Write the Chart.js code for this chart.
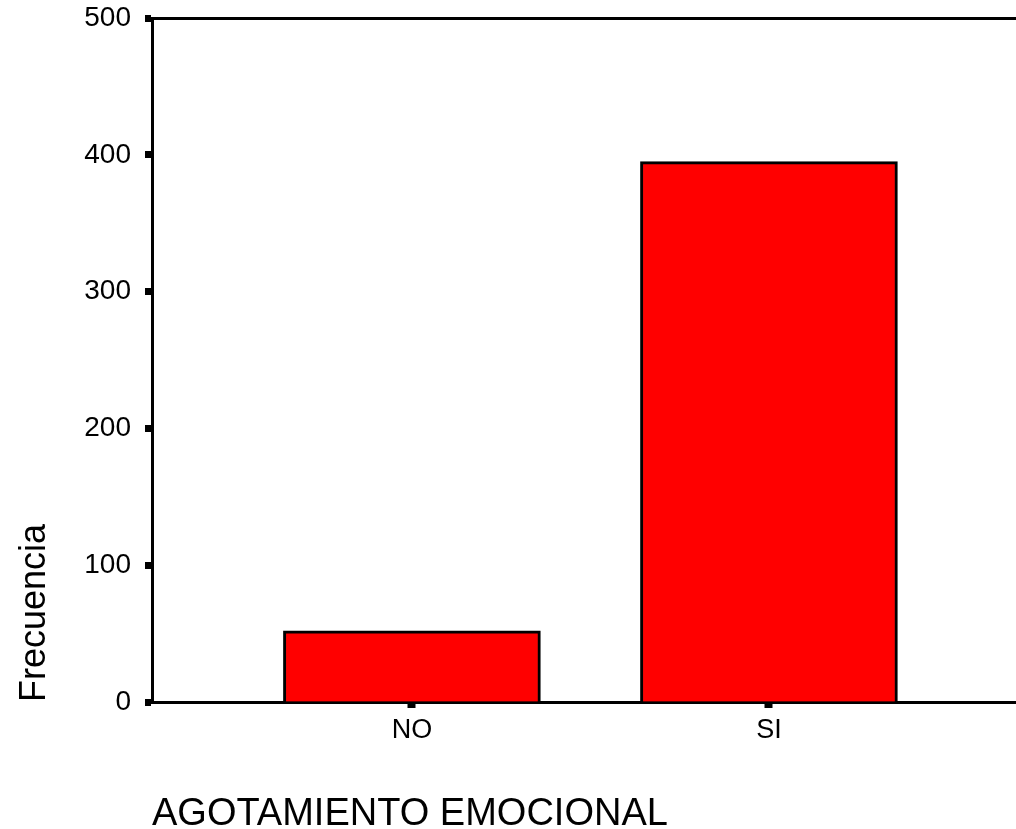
<!DOCTYPE html>
<html>
<head>
<meta charset="utf-8">
<script src="https://cdn.jsdelivr.net/npm/chart.js@4"></script>
<style>
  body { margin: 0; background: #fff; }
  #wrap { width: 1016px; height: 829px; }
</style>
</head>
<body>
<div id="wrap"><canvas id="chart" width="1016" height="829"></canvas></div>
<script>
// data
const categories = ["NO", "SI"];
const frecuencia = [52, 395];
const yTicks = [0, 100, 200, 300, 400, 500];

// bars sit at positions 1 and 2 on a linear x scale
const points = categories.map((c, i) => ({ x: i + 1, y: frecuencia[i] }));

const fontFam = "'Liberation Sans', Arial, sans-serif";

const ctx = document.getElementById("chart").getContext("2d");
new Chart(ctx, {
    type: "bar",
    data: {
        datasets: [{
            label: "Frecuencia",
            data: points,
            backgroundColor: "#ff0000",
            borderColor: "#000000",
            borderWidth: 3,
            borderSkipped: "bottom",
            barThickness: 257
        }]
    },
    options: {
        responsive: false,
        animation: false,
        layout: { padding: 0 },
        plugins: { legend: { display: false }, tooltip: { enabled: false } },
        scales: {
            x: {
                type: "linear",
                position: "bottom",
                offset: false,
                min: 0.272,
                max: 2.692,
                afterBuildTicks: axis => { axis.ticks = categories.map((c, i) => ({ value: i + 1 })); },
                afterFit: axis => { axis.height = 127; axis.paddingLeft = 0; axis.paddingRight = 0; },
                ticks: {
                    callback: v => categories[v - 1],
                    color: "#000",
                    font: { family: fontFam, size: 27 },
                    padding: 6,
                    maxRotation: 0,
                    autoSkip: false
                },
                grid: { offset: false, drawOnChartArea: false, tickLength: 6, tickWidth: 8, tickColor: "#000" },
                border: { display: true, color: "#000", width: 3 },
                title: {
                    display: true,
                    text: "AGOTAMIENTO EMOCIONAL",
                    align: "start",
                    color: "#000",
                    font: { family: fontFam, size: 38, lineHeight: 0.75 },
                    padding: { top: 0, bottom: 0 }
                }
            },
            xTop: {
                type: "linear",
                position: "top",
                min: 0,
                max: 1,
                afterFit: axis => { axis.height = 18; },
                ticks: { display: false },
                grid: { display: false },
                border: { display: true, color: "#000", width: 3 }
            },
            y: {
                min: 0,
                max: 500,
                afterBuildTicks: axis => { axis.ticks = yTicks.map(v => ({ value: v })); },
                afterFit: axis => { axis.width = 152; axis.paddingTop = 0; axis.paddingBottom = 0; },
                ticks: {
                    color: "#000",
                    font: { family: fontFam, size: 28 },
                    padding: 14
                },
                grid: { drawOnChartArea: false, tickLength: 7, tickWidth: 7, tickColor: "#000" },
                border: { display: true, color: "#000", width: 3 },
                title: {
                    display: true,
                    text: "Frecuencia",
                    align: "start",
                    color: "#000",
                    font: { family: fontFam, size: 36, lineHeight: 1 },
                    padding: { top: 17, bottom: 0 }
                }
            }
        }
    }
});
</script>
</body>
</html>
